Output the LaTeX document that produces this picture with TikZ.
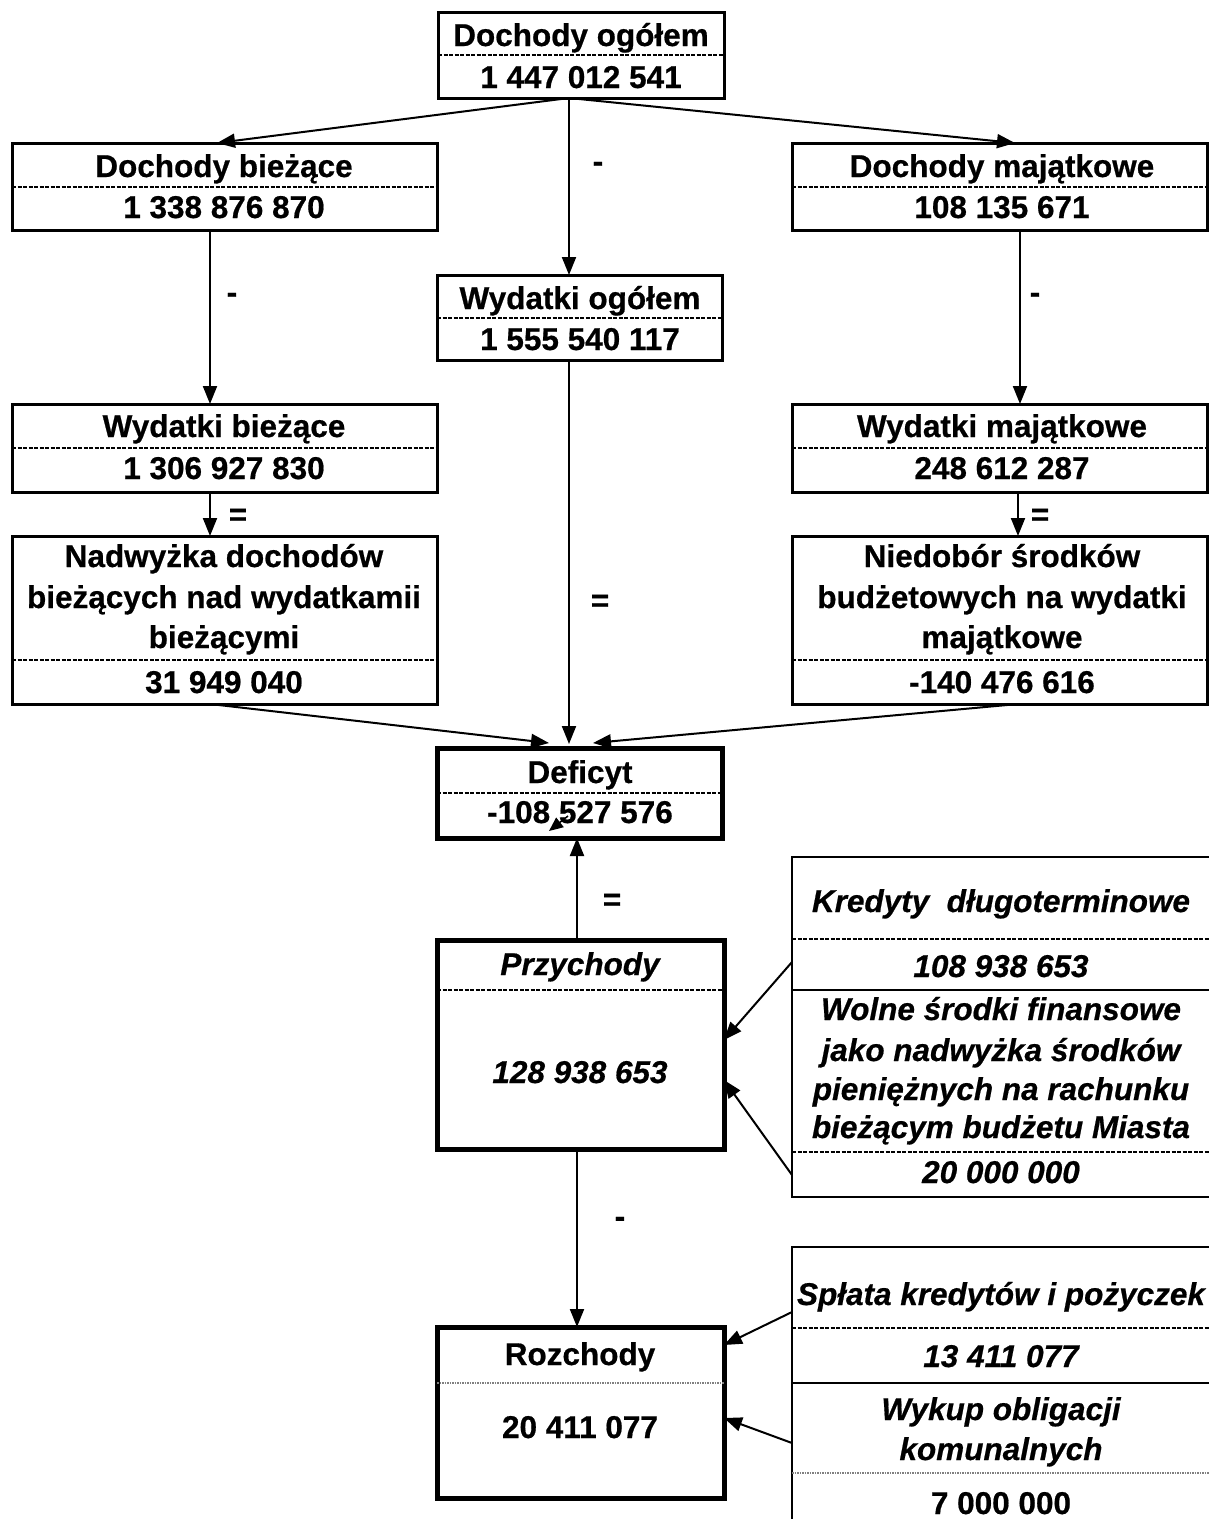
\documentclass[tikz,border=0pt]{standalone}
\usepackage{fontspec}
\setmainfont{Liberation Sans}[BoldFeatures={FakeBold=0.6},BoldItalicFeatures={FakeBold=0.6}]
\usetikzlibrary{arrows.meta,calc}
\begin{document}
\begin{tikzpicture}[x=1pt,y=-1pt,
  box/.style={draw, line width=3pt, inner sep=0pt, outer sep=0pt, anchor=north west},
  tbox/.style={box, line width=5pt},
  rbox/.style={box, line width=2.5pt},
  dsh/.style={line width=2.5pt, dash pattern=on 4pt off 1.5pt},
  dot/.style={line width=2.5pt, gray, dash pattern=on 1.5pt off 1pt},
  sld/.style={line width=2.5pt},
  txt/.style={anchor=base, inner sep=0pt, font=\fontsize{31.5}{38}\selectfont\bfseries},
  itx/.style={txt, font=\fontsize{31.5}{38}\selectfont\bfseries\itshape},
  sym/.style={anchor=center, inner sep=0pt, font=\fontsize{31.5}{38}\selectfont\bfseries},
  arr/.style={line width=2pt, -{Triangle[length=18pt,width=14pt]}},
  sarr/.style={line width=1.5pt, -{Triangle[length=14pt,width=12pt]}}]
\useasboundingbox (0,0) rectangle (1209,1519);

% --- boxes ---
\node[box, minimum width=286, minimum height=86] (dog) at (438,12) {};
\node[box, minimum width=425, minimum height=87] (dbi) at (12,143) {};
\node[box, minimum width=415, minimum height=87] (dma) at (792,143) {};
\node[box, minimum width=285, minimum height=85] (wog) at (437,275) {};
\node[box, minimum width=425, minimum height=88] (wbi) at (12,404) {};
\node[box, minimum width=415, minimum height=88] (wma) at (792,404) {};
\node[box, minimum width=425, minimum height=168] (nad) at (12,536) {};
\node[box, minimum width=415, minimum height=168] (nie) at (792,536) {};
\node[tbox, minimum width=285, minimum height=90] (def) at (437,748) {};
\node[tbox, minimum width=287, minimum height=209] (prz) at (437,940) {};
\node[tbox, minimum width=287, minimum height=171] (roz) at (437,1327) {};
\node[rbox, minimum width=430, minimum height=340] (kre) at (792,857) {};
\node[rbox, minimum width=430, minimum height=290] (spl) at (792,1247) {};

% --- dividers ---
\draw[dsh] (dog.west |- 0,55) -- (dog.east |- 0,55);
\draw[dsh] (dbi.west |- 0,187) -- (dbi.east |- 0,187);
\draw[dsh] (dma.west |- 0,187) -- (dma.east |- 0,187);
\draw[dsh] (wog.west |- 0,318) -- (wog.east |- 0,318);
\draw[dsh] (wbi.west |- 0,448) -- (wbi.east |- 0,448);
\draw[dsh] (wma.west |- 0,448) -- (wma.east |- 0,448);
\draw[dsh] (nad.west |- 0,660) -- (nad.east |- 0,660);
\draw[dsh] (nie.west |- 0,660) -- (nie.east |- 0,660);
\draw[dsh] (def.west |- 0,793) -- (def.east |- 0,793);
\draw[dsh] (prz.west |- 0,990) -- (prz.east |- 0,990);
\draw[dot] (roz.west |- 0,1383) -- (roz.east |- 0,1383);
\draw[dsh] (kre.west |- 0,939) -- (kre.east |- 0,939);
\draw[sld] (kre.west |- 0,990) -- (kre.east |- 0,990);
\draw[dsh] (kre.west |- 0,1152) -- (kre.east |- 0,1152);
\draw[dsh] (spl.west |- 0,1328) -- (spl.east |- 0,1328);
\draw[sld] (spl.west |- 0,1383) -- (spl.east |- 0,1383);
\draw[dot] (spl.west |- 0,1473) -- (spl.east |- 0,1473);

% --- texts ---
\node[txt] (dog-t) at (581,46) {Dochody ogółem};
\node[txt] (dog-n) at (581,88) {1 447 012 541};
\node[txt] (dbi-t) at (224,177) {Dochody bieżące};
\node[txt] (dbi-n) at (224,218) {1 338 876 870};
\node[txt] (dma-t) at (1002,177) {Dochody majątkowe};
\node[txt] (dma-n) at (1002,218) {108 135 671};
\node[txt] (wog-t) at (580,309) {Wydatki ogółem};
\node[txt] (wog-n) at (580,350) {1 555 540 117};
\node[txt] (wbi-t) at (224,437) {Wydatki bieżące};
\node[txt] (wbi-n) at (224,479) {1 306 927 830};
\node[txt] (wma-t) at (1002,437) {Wydatki majątkowe};
\node[txt] (wma-n) at (1002,479) {248 612 287};
\node[txt] (nad-1) at (224,567) {Nadwyżka dochodów};
\node[txt] (nad-2) at (224,608) {bieżących nad wydatkamii};
\node[txt] (nad-3) at (224,648) {bieżącymi};
\node[txt] (nad-n) at (224,693) {31 949 040};
\node[txt] (nie-1) at (1002,567) {Niedobór środków};
\node[txt] (nie-2) at (1002,608) {budżetowych na wydatki};
\node[txt] (nie-3) at (1002,648) {majątkowe};
\node[txt] (nie-n) at (1002,693) {-140 476 616};
\node[txt] (def-t) at (580,783) {Deficyt};
\node[txt] (def-n) at (580,823) {-108 527 576};
\node[itx] (prz-t) at (580,975) {Przychody};
\node[itx] (prz-n) at (580,1083) {128 938 653};
\node[txt] (roz-t) at (580,1365) {Rozchody};
\node[txt] (roz-n) at (580,1438) {20 411 077};
\node[itx] (kre-t) at (1001,912) {Kredyty~ długoterminowe};
\node[itx] (kre-n) at (1001,977) {108 938 653};
\node[itx] (wol-1) at (1001,1020) {Wolne środki finansowe};
\node[itx] (wol-2) at (1001,1061) {jako nadwyżka środków};
\node[itx] (wol-3) at (1001,1100) {pieniężnych na rachunku};
\node[itx] (wol-4) at (1001,1138) {bieżącym budżetu Miasta};
\node[itx] (wol-n) at (1001,1183) {20 000 000};
\node[itx] (spl-t) at (1001,1305) {Spłata kredytów i pożyczek};
\node[itx] (spl-n) at (1001,1367) {13 411 077};
\node[itx] (wyk-1) at (1001,1420) {Wykup obligacji};
\node[itx] (wyk-2) at (1001,1460) {komunalnych};
\node[txt] (wyk-n) at (1001,1514) {7 000 000};

% --- operators ---
\node[sym] (op1) at (598,167) {-};
\node[sym] (op2) at (232,298) {-};
\node[sym] (op3) at (1035,298) {-};
\node[sym] (op4) at (238,517) {=};
\node[sym] (op5) at (1040,517) {=};
\node[sym] (op6) at (600,603) {=};
\node[sym] (op7) at (612,902) {=};
\node[sym] (op8) at (620,1222) {-};

% --- connectors ---
\draw[arr] ([xshift=131pt]dog.south west) -- ([xshift=205pt]dbi.north west);
\draw[arr] ([xshift=131pt]dog.south west) -- ([xshift=223pt]dma.north west);
\draw[arr] ([xshift=131pt]dog.south west) -- ([xshift=132pt]wog.north west);
\draw[arr] ([xshift=198pt]dbi.south west) -- ([xshift=198pt]wbi.north west);
\draw[arr] ([xshift=228pt]dma.south west) -- ([xshift=228pt]wma.north west);
\draw[arr] ([xshift=198pt]wbi.south west) -- ([xshift=198pt]nad.north west);
\draw[arr] ([xshift=226pt]wma.south west) -- ([xshift=226pt]nie.north west);
\draw[arr] ([xshift=132pt]wog.south west) -- ([xshift=132pt,yshift=4pt]def.north west);
\draw[arr] ([xshift=198pt]nad.south west) -- ([xshift=112pt,yshift=5pt]def.north west);
\draw[arr] ([xshift=226pt]nie.south west) -- ([xshift=156pt,yshift=5pt]def.north west);
\draw[arr] ([xshift=140pt]prz.north west) -- ([xshift=140pt]def.south west);
\coordinate (s1) at (568,816);
\coordinate (s2) at (549,831);
\draw[sarr] (s1) -- (s2);
\draw[arr] ([yshift=-105pt]kre.north west) -- ([yshift=-100pt]prz.north east);
\draw[arr] ([yshift=-318pt]kre.north west) -- ([yshift=-140pt]prz.north east);
\draw[arr] ([xshift=140pt]prz.south west) -- ([xshift=140pt]roz.north west);
\draw[arr] ([yshift=-65pt]spl.north west) -- ([yshift=-18pt]roz.north east);
\draw[arr] ([yshift=-196pt]spl.north west) -- ([yshift=-91pt]roz.north east);
\end{tikzpicture}
\end{document}
